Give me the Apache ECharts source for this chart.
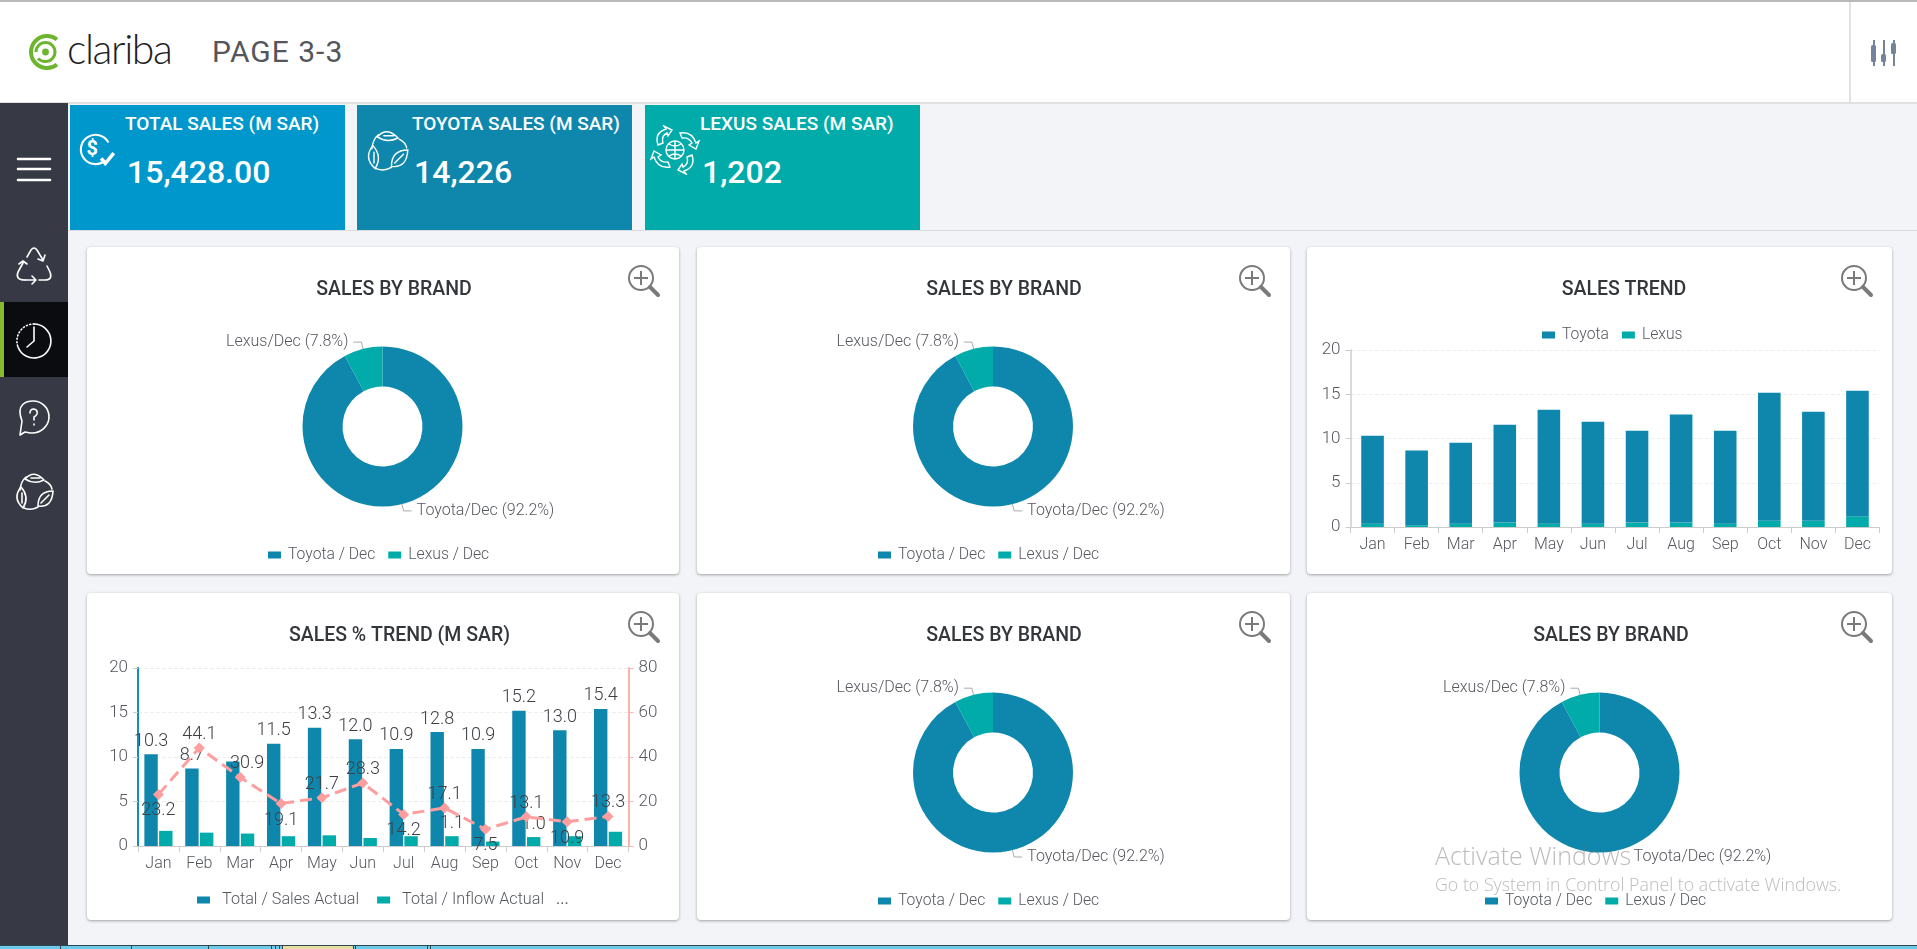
<!DOCTYPE html>
<html>
<head>
<meta charset="utf-8">
<title>PAGE 3-3</title>
<script src="https://cdn.jsdelivr.net/npm/echarts@6/dist/echarts.min.js"></script>
<style>
  html, body { margin: 0; padding: 0; width: 1917px; height: 949px; overflow: hidden; background: #f3f4f8; font-family: Roboto, sans-serif; }
  .abs { position: absolute; }
  #topline { left: 0; top: 0; width: 1917px; height: 2px; background: #b9b9b9; }
  #header { left: 0; top: 2px; width: 1917px; height: 100px; background: #fff; border-bottom: 2px solid #e0e0e2; }
  #divider { left: 1849px; top: 2px; width: 2px; height: 100px; background: #e2e2e2; }
  #logotext { left: 67px; top: 23px; font: 300 41px/52px Lato, sans-serif; color: #1f1f1f; letter-spacing: -1.4px; }
  #pagename { left: 212px; top: 32px; font: 400 30px/40px Roboto, sans-serif; color: #54565c; letter-spacing: 1px; }
  #sidebar { left: 0; top: 103px; width: 68px; height: 842px; background: #373a45; }
  #active { left: 0; top: 302px; width: 68px; height: 75px; background: #0a0c10; }
  #activebar { left: 0; top: 302px; width: 4px; height: 75px; background: #8ab92d; }
  .tile { top: 105px; height: 125px; width: 275px; color: #fff; }
  .tile .t { position: absolute; top: 8px; left: 55px; font: 500 19px/22px Roboto, sans-serif; white-space: nowrap; }
  .tile .v { position: absolute; top: 46px; left: 57px; font: 500 32px/42px Roboto, sans-serif; white-space: nowrap; }
  #tileline { left: 68px; top: 230px; width: 1849px; height: 1px; background: #dcdde0; }
  .card { background: #fff; border-radius: 4px; box-shadow: 0 1px 3px rgba(0,0,0,.35); }
  .card .chart { position: absolute; left: 0; top: 0; width: 100%; height: 100%; }
  .card svg { position: absolute; }
  #wm1 { left: 1435px; top: 838px; font: 300 25px/34px "Open Sans", sans-serif; color: rgba(120,120,120,.5); white-space: nowrap; }
  #wm2 { left: 1435px; top: 873px; font: 300 17.8px/22px "Open Sans", sans-serif; color: rgba(120,120,120,.5); white-space: nowrap; }
  #taskbar { left: 0; top: 945px; width: 1917px; height: 4px; background: #6ccbea; border-top: 1px solid #2f4650; box-sizing: border-box; }
  .tab { position: absolute; top: 0; width: 1px; height: 3px; background: #2f4650; }
</style>
</head>
<body>
<div id="header" class="abs"></div>
<div id="topline" class="abs"></div>
<div id="divider" class="abs"></div>
<svg class="abs" style="left:26px;top:30px" width="40" height="44" viewBox="0 0 40 44" fill="none" stroke="#6cb52d">
  <path d="M31 9.5 A16 16 0 1 0 31 34.5" stroke-width="4"/>
  <path d="M10 22 A9.5 9.5 0 1 1 19.5 31.5 Q15 31.5 12 28.5" stroke-width="3"/>
  <circle cx="19.5" cy="22" r="3.4" fill="#6cb52d" stroke="none"/>
</svg>
<div id="logotext" class="abs">clariba</div>
<div id="pagename" class="abs">PAGE 3-3</div>
<svg class="abs" style="left:1868px;top:38px" width="32" height="30" viewBox="0 0 32 30" fill="#75839a" stroke="none">
  <rect x="5" y="2" width="2" height="26"/><rect x="3" y="7" width="5" height="17" rx="1.5"/>
  <rect x="15" y="2" width="2" height="26"/><rect x="13" y="16" width="5" height="8" rx="1.5"/>
  <rect x="25" y="2" width="2" height="26"/><rect x="23" y="5" width="5" height="11" rx="1.5"/>
</svg>

<div id="sidebar" class="abs"></div>
<div id="active" class="abs"></div>
<div id="activebar" class="abs"></div>
<svg class="abs" style="left:0;top:103px" width="68" height="420" viewBox="0 103 68 420" fill="none" stroke="#fff" stroke-width="1.6" stroke-linecap="round" stroke-linejoin="round">
  <path d="M18 159H50M18 169H50M18 180H50" stroke-width="2.6"/>
  <path d="M27 257 L31 250 Q34 246 37 250 L43 260 M38 259 L43 261 L45 255"/>
  <path d="M47 266 L50 272 Q53 280 45 280 L39 280"/>
  <path d="M25 280 H36 M32 276 L36 280 L32 284"/>
  <path d="M25 280 Q15 280 18 272 L23 263 M19 264 L23 261 L27 264"/>
  <path d="M34 324 A17 17 0 1 1 18 347"/>
  <path d="M34 324 A17 17 0 0 0 18 347" stroke-dasharray="1 2.4"/>
  <path d="M34 327V341L27 347"/>
  <path d="M22 421 C15 403 28 401 33 401 C42 401 49 408 49 417 C49 426 41 433 32 433 C29 433 27 432 25 432 L20 435 Z"/>
  <path d="M30 413 Q30 409 34 409 Q38 410 37 414 Q36 416 34 417 V420 M34 424V425"/>
  <g id="leaves">
    <path d="M25 479 Q34 469 44 480 Q34 485 25 479 Z M31 478 H40"/>
    <path d="M21 487 Q12 498 23 508 Q30 497 21 487 Z M22 493 V503"/>
    <path d="M38 506 Q52 508 53 491 Q38 491 38 506 Z M41 503 L49 495"/>
    <path d="M20 490 Q21 481 26 477 M45 481 Q51 484 52 489 M24 508 Q31 511 38 507"/>
  </g>
</svg>

<div class="abs tile" style="left:70px;background:#0098cc"><div class="t">TOTAL SALES (M SAR)</div><div class="v">15,428.00</div>
  <svg class="abs" style="left:6px;top:25px" width="44" height="44" viewBox="0 0 42 42" fill="none" stroke="#fff" stroke-width="2"><path d="M28 29 A14 14 0 1 1 31 12"/><path d="M24 27 L28 32 L36 22" stroke-width="3.4"/><text x="10" y="24" font-family="Roboto" font-weight="700" font-size="19" fill="#fff" stroke="none">$</text></svg></div>
<div class="abs tile" style="left:357px;background:#0f87ad"><div class="t">TOYOTA SALES (M SAR)</div><div class="v">14,226</div>
  <svg class="abs" style="left:5px;top:21px" width="48" height="48" viewBox="11 469 44 44" fill="none" stroke="#fff" stroke-width="1.3" stroke-linecap="round"><use href="#leaves"/></svg></div>
<div class="abs tile" style="left:645px;background:#00abaa"><div class="t">LEXUS SALES (M SAR)</div><div class="v">1,202</div>
  <svg class="abs" style="left:5px;top:20px" width="50" height="50" viewBox="0 0 50 50" fill="none" stroke="#fff" stroke-width="1.4"><circle cx="25" cy="25" r="9"/><path d="M16 25H34M25 16V34M19 19Q25 23 31 19M19 31Q25 27 31 31"/><path d="M8 20 Q4 8 16 4 L14 1 L22 5 L18 11 L17 8 Q11 11 13 18 Z M30 8 Q42 6 46 18 L49 16 L46 24 L39 20 L42 18 Q39 12 32 13 Z M42 30 Q46 42 34 46 L36 49 L28 45 L32 39 L33 42 Q39 39 37 32 Z M20 42 Q8 44 4 32 L1 34 L4 26 L11 30 L8 32 Q11 38 18 37 Z"/></svg></div>
<div id="tileline" class="abs"></div>

<div id="cards"></div>

<div id="wm1" class="abs">Activate Windows</div>
<div id="wm2" class="abs">Go to System in Control Panel to activate Windows.</div>
<div id="taskbar" class="abs"></div>

<script>
const months = ['Jan', 'Feb', 'Mar', 'Apr', 'May', 'Jun', 'Jul', 'Aug', 'Sep', 'Oct', 'Nov', 'Dec'];

// donut
const brandNames = ['Toyota / Dec', 'Lexus / Dec'];
const brandSlices = ['Toyota/Dec', 'Lexus/Dec'];
const brandShare = [92.2, 7.8];

// stacked trend
const trendToyota = [9.92, 8.43, 9.15, 11.06, 12.88, 11.52, 10.38, 12.2, 10.5, 14.48, 12.33, 14.2];
const trendLexus = [0.38, 0.2, 0.38, 0.5, 0.38, 0.38, 0.5, 0.5, 0.38, 0.7, 0.7, 1.2];

// combo
const salesActual = [10.3, 8.7, 9.5, 11.5, 13.3, 12.0, 10.9, 12.8, 10.9, 15.2, 13.0, 15.4];
const inflowActual = [1.7, 1.5, 1.4, 1.1, 1.2, 0.9, 1.1, 1.1, 0.5, 1.0, 1.1, 1.6];
const pctTrend = [23.2, 44.1, 30.9, 19.1, 21.7, 28.3, 14.2, 17.1, 7.5, 13.1, 10.9, 13.3];
const salesLabelHidden = ['Mar'];
const inflowLabelShown = ['Aug', 'Oct'];
const pctLabelBelow = ['Jan', 'Apr', 'Jul', 'Sep', 'Nov'];

const BLUE = '#0f87ad', TEAL = '#00abaa', PINK = '#ff9e9e', TXT = '#55585e', DARK = '#3c3f44';
const FONT = 'Roboto';

const titleStyle = { fontFamily: FONT, fontSize: 19.5, fontWeight: 500, color: '#33363b' };
const labelStyle = { fontFamily: FONT, fontWeight: 300, color: TXT };

function titleOf(text, x, y) {
  return { text: text, left: x, top: y, textAlign: 'center', padding: 0, textStyle: titleStyle };
}

function pieOption(card) {
  return {
    animation: false,
    color: [BLUE, TEAL],
    title: titleOf(card.title, card.tx, card.ty),
    legend: {
      left: card.lx, top: card.ly, padding: 0, itemWidth: 13, itemHeight: 7, itemGap: 13, icon: 'rect',
      data: brandNames,
      textStyle: Object.assign({ fontSize: 15.7, padding: [0, 0, 0, 2] }, labelStyle)
    },
    series: [{
      type: 'pie',
      center: [card.cx, card.cy],
      radius: [40, 80],
      startAngle: 90,
      label: { fontSize: 16, fontFamily: FONT, fontWeight: 300, color: TXT, formatter: function (p) { return brandSlices[p.dataIndex] + ' (' + p.value + '%)'; } },
      labelLine: { show: true, length: 7, length2: 8, smooth: false, lineStyle: { color: '#aaa', width: 1 } },
      data: brandNames.map(function (n, i) {
        var d = { name: n, value: brandShare[i] };
        if (card.noLine && i === 0) d.labelLine = { show: false };
        return d;
      })
    }]
  };
}

function trendOption(card) {
  return {
    animation: false,
    color: [BLUE, TEAL],
    title: titleOf(card.title, card.tx, card.ty),
    legend: {
      left: 235, top: 80, padding: 0, itemWidth: 13, itemHeight: 7, itemGap: 13, icon: 'rect',
      data: ['Toyota', 'Lexus'],
      textStyle: Object.assign({ fontSize: 15.7, padding: [0, 0, 0, 2] }, labelStyle)
    },
    grid: { left: 43.5, right: 12.5, top: 103, height: 177 },
    xAxis: {
      type: 'category', data: months,
      axisLine: { lineStyle: { color: '#ccc' } }, axisTick: { show: true, length: 6, lineStyle: { color: '#ccc' } },
      axisLabel: Object.assign({ fontSize: 16, margin: 10 }, labelStyle)
    },
    yAxis: {
      type: 'value', min: 0, max: 20, interval: 5,
      axisLine: { show: true, lineStyle: { color: '#ccc', width: 1.5 } }, axisTick: { show: true, length: 5, lineStyle: { color: '#ccc' } },
      splitLine: { lineStyle: { color: '#eee', type: 'dashed' } },
      axisLabel: Object.assign({ fontSize: 17, margin: 10 }, labelStyle)
    },
    series: [
      { name: 'Lexus', type: 'bar', stack: 'sales', barWidth: 22.6, data: trendLexus, itemStyle: { color: TEAL } },
      { name: 'Toyota', type: 'bar', stack: 'sales', barWidth: 22.6, data: trendToyota, itemStyle: { color: BLUE } }
    ]
  };
}

function comboOption(card) {
  var barLabel = { position: 'top', fontSize: 18, distance: 4, fontFamily: FONT, fontWeight: 300, color: DARK, formatter: function (p) { return p.value.toFixed(1); } };
  return {
    animation: false,
    title: titleOf(card.title, card.tx, card.ty),
    legend: {
      left: 110, top: 299, padding: 0, itemWidth: 13, itemHeight: 7, itemGap: 18, icon: 'rect',
      data: ['Total / Sales Actual', 'Total / Inflow Actual'],
      textStyle: Object.assign({ fontSize: 16.2, padding: [0, 0, 0, 7] }, labelStyle)
    },
    graphic: [{ type: 'text', left: 469, top: 299, style: { text: '...', fill: TXT, font: '400 16px ' + FONT } }],
    grid: { left: 51, right: 50.5, top: 75, height: 178 },
    xAxis: {
      type: 'category', data: months,
      axisLine: { lineStyle: { color: '#ccc' } }, axisTick: { show: true, length: 6, lineStyle: { color: '#ccc' } },
      axisLabel: Object.assign({ fontSize: 16, margin: 10 }, labelStyle)
    },
    yAxis: [
      {
        type: 'value', min: 0, max: 20, interval: 5,
        axisLine: { show: true, lineStyle: { color: '#0f8fb8', width: 2 } }, axisTick: { show: true, length: 5, lineStyle: { color: '#ccc' } },
        splitLine: { lineStyle: { color: '#eee', type: 'dashed' } },
        axisLabel: Object.assign({ fontSize: 17, margin: 10 }, labelStyle)
      },
      {
        type: 'value', min: 0, max: 80, interval: 20,
        axisLine: { show: true, lineStyle: { color: '#ffb0b0', width: 2 } }, axisTick: { show: true, length: 5, lineStyle: { color: '#ffb0b0' } },
        splitLine: { show: false },
        axisLabel: Object.assign({ fontSize: 17, margin: 10 }, labelStyle)
      }
    ],
    series: [
      {
        name: 'Total / Sales Actual', type: 'bar', barWidth: 13.4, barGap: '10%', itemStyle: { color: BLUE },
        label: Object.assign({}, barLabel, { show: true }),
        data: salesActual.map(function (v, i) {
          return salesLabelHidden.indexOf(months[i]) >= 0 ? { value: v, label: { show: false } } : v;
        })
      },
      {
        name: 'Total / Inflow Actual', type: 'bar', barWidth: 13.4, itemStyle: { color: TEAL },
        label: Object.assign({}, barLabel, { show: false }),
        data: inflowActual.map(function (v, i) {
          return inflowLabelShown.indexOf(months[i]) >= 0 ? { value: v, label: { show: true } } : v;
        })
      },
      {
        name: 'Total / % Trend', type: 'line', yAxisIndex: 1, symbol: 'diamond', symbolSize: 11, z: 5,
        itemStyle: { color: PINK }, lineStyle: { color: PINK, width: 3, type: 'dashed' },
        label: { show: true, position: 'top', fontSize: 18, distance: -1, fontFamily: FONT, fontWeight: 300, color: DARK },
        data: pctTrend.map(function (v, i) {
          if (pctLabelBelow.indexOf(months[i]) >= 0) return { value: v, label: { position: 'bottom', distance: 2 } };
          if (months[i] === 'Mar') return { value: v, label: { offset: [7, 0] } };
          return v;
        })
      }
    ]
  };
}

const cards = [
  { kind: pieOption, x: 87, y: 247, w: 592, h: 327, title: 'SALES BY BRAND', tx: 307, ty: 33, cx: 295.5, cy: 179.5, lx: 181, ly: 300 },
  { kind: pieOption, x: 697, y: 247, w: 593, h: 327, title: 'SALES BY BRAND', tx: 307, ty: 33, cx: 296, cy: 179.5, lx: 181, ly: 300 },
  { kind: trendOption, x: 1307, y: 247, w: 585, h: 327, title: 'SALES TREND', tx: 317, ty: 33 },
  { kind: comboOption, x: 87, y: 593, w: 592, h: 327, title: 'SALES % TREND (M SAR)', tx: 312.5, ty: 33 },
  { kind: pieOption, x: 697, y: 593, w: 593, h: 327, title: 'SALES BY BRAND', tx: 307, ty: 33, cx: 296, cy: 179.6, lx: 181, ly: 300 },
  { kind: pieOption, x: 1307, y: 593, w: 585, h: 327, title: 'SALES BY BRAND', tx: 304, ty: 33, cx: 292.5, cy: 179.6, lx: 178, ly: 300, noLine: true }
];

const holder = document.getElementById('cards');
cards.forEach(function (c) {
  var el = document.createElement('div');
  el.className = 'abs card';
  el.style.cssText = 'left:' + c.x + 'px;top:' + c.y + 'px;width:' + c.w + 'px;height:' + c.h + 'px';
  var box = document.createElement('div');
  box.className = 'chart';
  el.appendChild(box);
  // magnifier icon
  var ns = '<svg style="right:17px;top:16px" width="36" height="36" viewBox="0 0 36 36" fill="none" stroke="#7a7a7a">' +
    '<circle cx="15" cy="15" r="12" stroke-width="2"/><path d="M15 8V22M8 15H22" stroke-width="2"/>' +
    '<path d="M24 24L32 32" stroke-width="4" stroke-linecap="round"/></svg>';
  el.insertAdjacentHTML('beforeend', ns);
  holder.appendChild(el);
  echarts.init(box).setOption(c.kind(c));
});

// task bar slivers along the bottom edge
const bar = document.getElementById('taskbar');
[60, 131, 208, 271, 275, 279, 282, 353, 355, 427, 430].forEach(function (x) {
  bar.insertAdjacentHTML('beforeend', '<div class="tab" style="left:' + x + 'px"></div>');
});
bar.insertAdjacentHTML('beforeend', '<div class="tab" style="left:283px;width:70px;background:#e6dca0"></div>');
</script>
</body>
</html>
